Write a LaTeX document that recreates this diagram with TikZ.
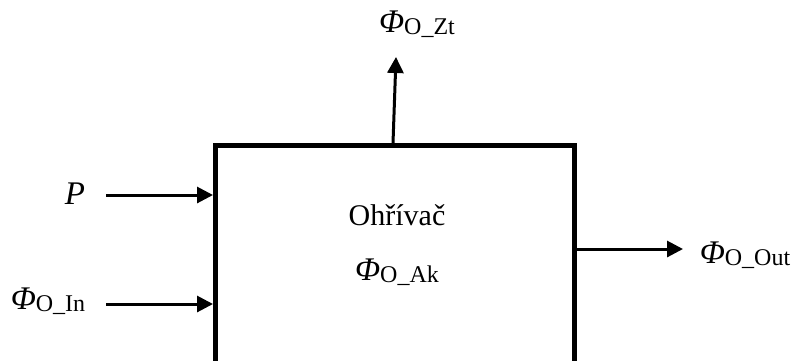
\documentclass[tikz,border=0pt]{standalone}
\usepackage{fontspec}
\setmainfont{Liberation Serif}
\usetikzlibrary{arrows.meta}
\newcommand\flx[1]{{\fontsize{33}{38}\selectfont\textit{Φ}}\raisebox{-0.55ex}{\fontsize{24}{28}\selectfont O\_#1}}
\begin{document}
\begin{tikzpicture}[x=1pt,y=-1pt,
  lab/.style={inner sep=0pt,anchor=center},
  arr/.style={line width=3pt,-{Triangle[length=16pt,width=16pt]}},
  blk/.style={draw,line width=4.5pt,minimum width=359pt,minimum height=240pt,inner sep=0pt,anchor=north west}]
\useasboundingbox (0,0) rectangle (791,360);
\clip (0,0) rectangle (791,360);
\fill[white] (0,0) rectangle (791,360);
\node[blk] (box) at (213,143) {};
\node[lab] (t1) at (397,215) {\fontsize{30}{36}\selectfont Ohřívač};
\node[lab] (t2) at (397,272) {\flx{Ak}};
\node[lab] (p) at (75,194) {\fontsize{33}{38}\selectfont\textit{P}};
\node[lab] (fin) at (48,301) {\flx{In}};
\node[lab] (fzt) at (417,24) {\flx{Zt}};
\node[lab] (fout) at (745,255) {\flx{Out}};
\coordinate (pin) at (213,195);
\coordinate (inin) at (213,304);
\coordinate (ztb) at (393,143);
\coordinate (outb) at (573,249);
\draw[arr] (106,195) coordinate (ps) -- (pin);
\draw[arr] (106,304) coordinate (is) -- (inin);
\draw[arr] (ztb) -- (396,57) coordinate (zte);
\draw[arr] (outb) -- (683,249) coordinate (oe);
\end{tikzpicture}
\end{document}
